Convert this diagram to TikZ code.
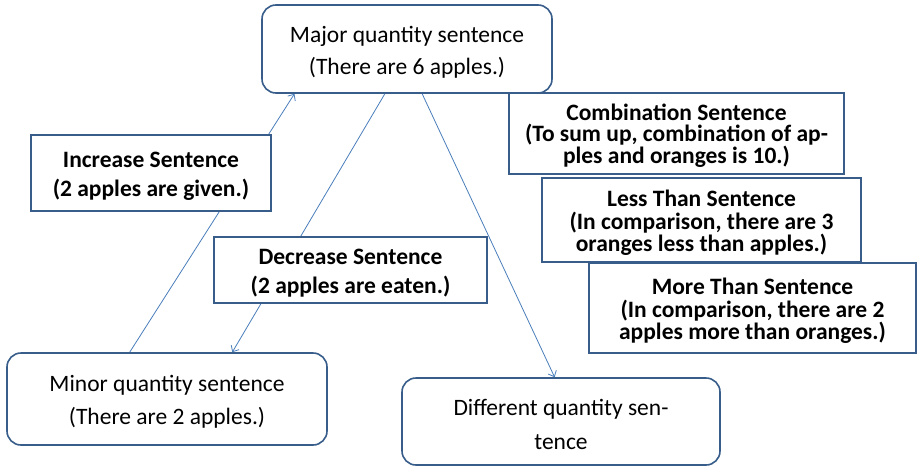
\documentclass[tikz,border=0pt]{standalone}
\usepackage{fontspec}
\setmainfont{Carlito}
\usetikzlibrary{arrows.meta,calc}
\definecolor{boxblue}{HTML}{385D8A}
\definecolor{lineblue}{HTML}{4A7EBB}
\tikzset{
  roundbox/.style={draw=boxblue, line width=1.6pt, fill=white, rounded corners=14pt, inner sep=0pt},
  sqbox/.style={draw=boxblue, line width=1.6pt, fill=white, inner sep=0pt},
  regtext/.style={align=center, inner sep=0pt, font=\fontsize{23.5}{32.5}\selectfont},
  boldtext/.style={align=center, inner sep=0pt, font=\fontsize{23.5}{29}\selectfont\bfseries},
  tighttext/.style={align=center, inner sep=0pt, font=\fontsize{23.5}{22.5}\selectfont\bfseries},
  conn/.style={draw=lineblue, line width=0.8pt, -{Straight Barb[length=5pt,width=9pt]}}
}
\begin{document}
\begin{tikzpicture}[x=1pt,y=-1pt]
\useasboundingbox (0,0) rectangle (917,466);
% main boxes
\node[roundbox, minimum width=290, minimum height=88] (major) at (407,49) {};
\node[regtext] (majorT) at ([yshift=-3.5pt]major.center) {Major quantity sentence\\(There are 6 apples.)};
\node[roundbox, minimum width=320, minimum height=92] (minor) at (167,399) {};
\node[regtext] (minorT) at ([yshift=-3pt]minor.center) {Minor quantity sentence\\(There are 2 apples.)};
\node[roundbox, minimum width=318, minimum height=87] (diff) at (561,421.5) {};
\node[regtext, font=\fontsize{23.5}{34}\selectfont] (diffT) at ([yshift=-3pt]diff.center) {Different quantity sen-\\tence};
% coordinates on the node edges
\coordinate (incA) at ($(minor.north west)!0.384!(minor.north east)$);
\coordinate (incB) at ($(major.south west)!0.114!(major.south east)$);
\coordinate (decA) at ($(major.south west)!0.424!(major.south east)$);
\coordinate (decB) at ($(minor.north west)!0.703!(minor.north east)$);
\coordinate (difA) at ($(major.south west)!0.552!(major.south east)$);
\coordinate (difB) at ($(diff.north west)!0.48!(diff.north east)$);
% connectors
\draw[conn] (incA) -- (incB);
\draw[conn] (decA) -- (decB);
\draw[conn] (difA) -- (difB);
% label boxes
\node[sqbox, minimum width=240, minimum height=76] (inc) at (151,173) {};
\node[boldtext] (incT) at ([yshift=-3pt]inc.center) {Increase Sentence\\(2 apples are given.)};
\node[sqbox, minimum width=273, minimum height=66] (dec) at (350.5,270) {};
\node[boldtext] (decT) at ([yshift=-3pt]dec.center) {Decrease Sentence\\(2 apples are eaten.)};
\node[sqbox, minimum width=335, minimum height=81] (comb) at (676.5,133.5) {};
\node[tighttext, font=\fontsize{23.5}{21.5}\selectfont\bfseries] (combT) at ([yshift=-2pt]comb.center) {Combination Sentence\\(To sum up, combination of ap-\\ples and oranges is 10.)};
\node[sqbox, minimum width=319, minimum height=84] (less) at (701.5,220) {};
\node[tighttext] (lessT) at ([yshift=-3pt]less.center) {Less Than Sentence\\(In comparison, there are 3\\oranges less than apples.)};
\node[sqbox, minimum width=327, minimum height=90] (more) at (752.5,308) {};
\node[tighttext] (moreT) at ([yshift=-3pt]more.center) {More Than Sentence\\(In comparison, there are 2\\apples more than oranges.)};
\end{tikzpicture}
\end{document}
